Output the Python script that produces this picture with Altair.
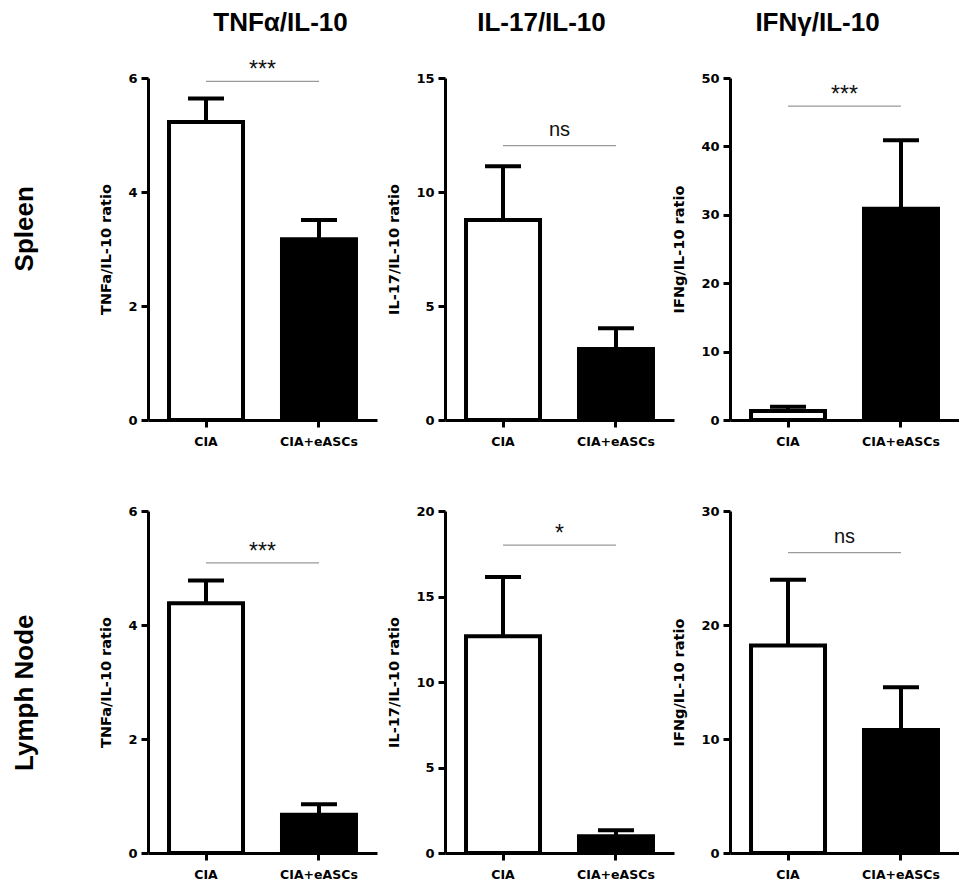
import altair as alt
import pandas as pd

# ---------------- data ----------------
groups = ["CIA", "CIA+eASCs"]
ratios = ["TNFα/IL-10", "IL-17/IL-10", "IFNγ/IL-10"]
y_titles = ["TNFa/IL-10 ratio", "IL-17/IL-10 ratio", "IFNg/IL-10 ratio"]
tissues = ["Spleen", "Lymph Node"]

spleen_cia_mean = [5.23, 8.77, 1.3]
spleen_cia_sem = [0.41, 2.36, 0.65]
spleen_easc_mean = [3.17, 3.11, 30.9]
spleen_easc_sem = [0.34, 0.91, 10.0]

ln_cia_mean = [4.38, 12.68, 18.2]
ln_cia_sem = [0.40, 3.46, 5.76]
ln_easc_mean = [0.67, 0.98, 10.8]
ln_easc_sem = [0.185, 0.35, 3.75]

spleen_sig = ["***", "ns", "***"]
ln_sig = ["***", "*", "ns"]
spleen_sig_y = [5.94, 12.03, 45.9]
ln_sig_y = [5.09, 18.0, 26.34]

spleen_ymax = [6, 15, 50]
ln_ymax = [6, 20, 30]
spleen_ystep = [2, 5, 10]
ln_ystep = [2, 5, 10]

# ---------------- style ----------------
FONT = "Liberation Sans"
AXFONT = "DejaVu Sans"
W, H = 229, 342
PI, PO = 0.345, 0.186
STEP = W / (2 - PI + 2 * PO)
title_dx = [18, -18, -27]
title_offset = [23, 36, 36]

rows = [
    dict(cm=spleen_cia_mean, cs=spleen_cia_sem, em=spleen_easc_mean, es=spleen_easc_sem,
         sig=spleen_sig, sy=spleen_sig_y, ymax=spleen_ymax, ystep=spleen_ystep),
    dict(cm=ln_cia_mean, cs=ln_cia_sem, em=ln_easc_mean, es=ln_easc_sem,
         sig=ln_sig, sy=ln_sig_y, ymax=ln_ymax, ystep=ln_ystep),
]


def panel(r, c):
    d = rows[r]
    means = [d["cm"][c], d["em"][c]]
    sems = [d["cs"][c], d["es"][c]]
    df = pd.DataFrame({
        "group": groups,
        "mean": means,
        "upper": [m + s for m, s in zip(means, sems)],
    })
    sig_df = pd.DataFrame({
        "start": [groups[0]], "end": [groups[1]],
        "y": [d["sy"][c]], "label": [d["sig"][c]],
    })
    ymax = d["ymax"][c]
    ticks = list(range(0, ymax + 1, d["ystep"][c]))

    xscale = alt.Scale(domain=groups, paddingInner=PI, paddingOuter=PO)
    xaxis = alt.Axis(title=None, labelAngle=0, labelFontSize=12.5, labelFontWeight="bold",
                     labelPadding=8, tickSize=7, tickWidth=3, domainWidth=3)
    yscale = alt.Scale(domain=[0, ymax], nice=False, zero=True)
    yaxis = alt.Axis(title=y_titles[c], values=ticks, labelFontSize=13, labelFontWeight="bold",
                     labelPadding=4, tickSize=7, tickWidth=3, domainWidth=3,
                     titleFontSize=14.5, titleFontWeight="bold", titlePadding=14)

    def X(f):
        return alt.X(f"{f}:N", scale=xscale, axis=xaxis, sort=groups)

    def Y(f):
        return alt.Y(f"{f}:Q", scale=yscale, axis=yaxis)

    bars = alt.Chart(df).mark_bar(stroke="black", strokeWidth=4, opacity=1).encode(
        x=X("group"), y=Y("mean"),
        fill=alt.Fill("group:N", scale=alt.Scale(domain=groups, range=["white", "black"]), legend=None),
    )
    err = alt.Chart(df).mark_rule(color="black", strokeWidth=4, opacity=1).encode(
        x=X("group"), y=Y("mean"), y2="upper:Q")
    cap = alt.Chart(df).mark_tick(orient="horizontal", size=36, thickness=4, color="black",
                                  opacity=1).encode(
        x=X("group"), y=Y("upper"))
    line = alt.Chart(sig_df).mark_rule(color="#9a9a9a", strokeWidth=1.2).encode(
        x=X("start"), x2="end:N", y=Y("y"))
    is_ns = d["sig"][c] == "ns"
    text = alt.Chart(sig_df).mark_text(
        font=FONT, fontSize=20 if is_ns else 23, dx=STEP / 2, dy=-10 if is_ns else -4,
        baseline="alphabetic", align="center", color="#111111").encode(
        x=X("start"), y=Y("y"), text="label:N")

    ch = alt.layer(bars, err, cap, line, text).properties(width=W, height=H)
    if r == 0:
        ch = ch.properties(title=alt.TitleParams(ratios[c], fontSize=26, fontWeight="bold", font=FONT,
                                                 anchor="middle", dx=title_dx[c],
                                                 offset=title_offset[c]))
    return ch


row_charts = []
for r in range(2):
    inner = alt.hconcat(panel(r, 0), panel(r, 1), spacing=9)
    row = alt.hconcat(inner, panel(r, 2), spacing=-3).properties(
        title=alt.TitleParams(tissues[r], orient="left", anchor="middle", fontSize=26,
                              fontWeight="bold", font=FONT, offset=61))
    row_charts.append(row)

chart = alt.vconcat(*row_charts, spacing=57).properties(
    padding={"left": 3, "top": 2, "right": 0, "bottom": 0}).configure_view(
    stroke=None).configure_axis(
    grid=False, domainColor="black", tickColor="black", labelColor="black", titleColor="black",
    labelFont=AXFONT, titleFont=AXFONT).configure_title(color="black")

chart.save("out.html", embed_options={"renderer": "svg", "actions": False})
